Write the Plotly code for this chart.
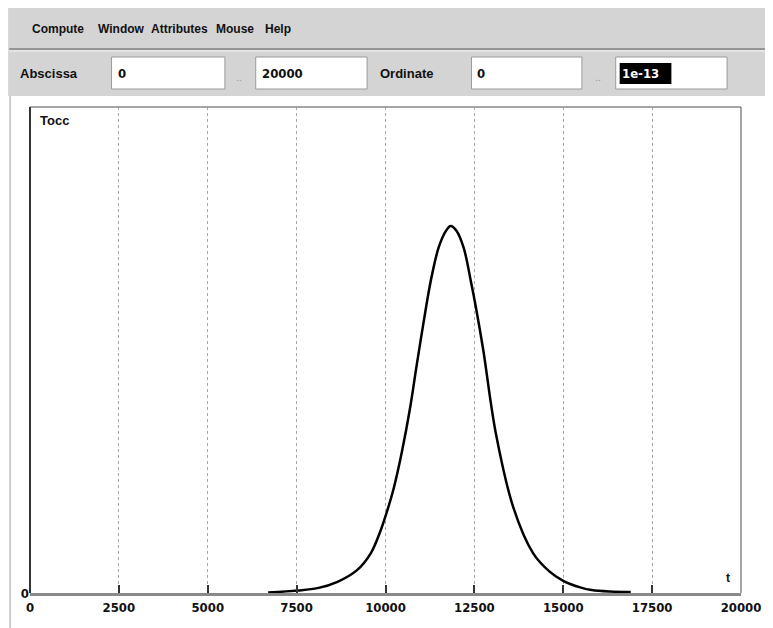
import plotly.graph_objects as go

# ---- data ----
t_vals = [6700, 7530, 8090, 8650, 9200, 9580, 9850, 10000, 10230, 10460, 10690,
          10880, 11150, 11300, 11500, 11700, 11830, 12000, 12200, 12400, 12550,
          12750, 13100, 13600, 14150, 14600, 15000, 15500, 15800, 16300, 16900]
tocc_vals = [0.001, 0.005, 0.010, 0.023, 0.047, 0.081, 0.126, 0.158, 0.215, 0.290, 0.380,
             0.470, 0.592, 0.652, 0.712, 0.745, 0.755, 0.745, 0.710, 0.642, 0.585,
             0.500, 0.330, 0.175, 0.082, 0.045, 0.025, 0.011, 0.006, 0.003, 0.002]
tocc_vals = [v * 1e-13 for v in tocc_vals]
x_ticks = [0, 2500, 5000, 7500, 10000, 12500, 15000, 17500, 20000]
x_tick_labels = ["0", "2500", "5000", "7500", "10000", "12500", "15000", "17500", "20000"]
menu_items = ["Compute", "Window", "Attributes", "Mouse", "Help"]
menu_cx = [58, 122, 180, 236, 279]

OFF = 8  # page body margin
W, H = 773 - OFF, 628 - OFF
L, R, T, B = 30 - OFF, (773 - OFF) - (745 - OFF), 107 - OFF, (628 - OFF) - (593 - OFF)
PW, PH = W - L - R, H - T - B


def px(x):
    # page pixel x -> paper coordinate
    return (x - OFF - L) / PW


def py(y):
    # page pixel y -> paper coordinate
    return (H - B - (y - OFF)) / PH


fig = go.Figure()
fig.add_trace(go.Scatter(x=t_vals, y=tocc_vals, mode="lines",
                         line=dict(color="black", width=2.5, shape="spline", smoothing=1.0),
                         hoverinfo="skip", showlegend=False))

shapes = []
annotations = []
GRAY = "#d4d4d4"
FONT_UI = "Liberation Sans, Arial, sans-serif"
FONT_NUM = "DejaVu Sans Condensed, Liberation Sans Narrow, Arial Narrow, sans-serif"

# window panel
shapes.append(dict(type="rect", xref="paper", yref="paper", x0=px(8), x1=px(773), y0=py(8), y1=py(96),
                   fillcolor=GRAY, line=dict(width=0), layer="below"))
shapes.append(dict(type="line", xref="paper", yref="paper", x0=px(9), x1=px(773), y0=py(49), y1=py(49),
                   line=dict(color="#808080", width=1.5)))
shapes.append(dict(type="line", xref="paper", yref="paper", x0=px(9), x1=px(773), y0=py(51), y1=py(51),
                   line=dict(color="#f4f4f4", width=1)))
shapes.append(dict(type="line", xref="paper", yref="paper", x0=px(10), x1=px(10), y0=py(96), y1=py(628),
                   line=dict(color="#cccccc", width=2)))

for name, cx in zip(menu_items, menu_cx):
    annotations.append(dict(x=px(cx), y=py(29), xref="paper", yref="paper", text="<b>" + name + "</b>",
                            showarrow=False, xanchor="center", yanchor="middle",
                            font=dict(family=FONT_UI, size=12, color="#111111")))

# toolbar labels
annotations.append(dict(x=px(18), y=py(73), xref="paper", yref="paper", text="<b>Abscissa</b>",
                        showarrow=False, xanchor="left", yanchor="middle",
                        font=dict(family=FONT_UI, size=13, color="#111111")))
annotations.append(dict(x=px(380), y=py(73), xref="paper", yref="paper", text="<b>Ordinate</b>",
                        showarrow=False, xanchor="left", yanchor="middle",
                        font=dict(family=FONT_UI, size=13, color="#111111")))
for dx in [240, 601]:
    annotations.append(dict(x=px(dx), y=py(77), xref="paper", yref="paper", text="..",
                            showarrow=False, xanchor="center", yanchor="middle",
                            font=dict(family=FONT_UI, size=11, color="#999999")))

# input boxes
boxes = [(112, 226, "0"), (257, 369, "20000"), (474, 585, "0"), (619, 731, "1e-13")]
for x0, x1, txt in boxes:
    shapes.append(dict(type="rect", xref="paper", yref="paper", x0=px(x0), x1=px(x1), y0=py(57), y1=py(89),
                       fillcolor="white", line=dict(color="#9a9a9a", width=1)))
    if txt == "1e-13":
        shapes.append(dict(type="rect", xref="paper", yref="paper", x0=px(623), x1=px(675), y0=py(63), y1=py(84),
                           fillcolor="black", line=dict(width=0)))
        color = "white"
    else:
        color = "#111111"
    annotations.append(dict(x=px(x0 + 4), y=py(73), xref="paper", yref="paper", text="<b>" + txt + "</b>",
                            showarrow=False, xanchor="left", yanchor="middle",
                            font=dict(family=FONT_NUM, size=13, color=color)))

# plot frame
shapes.append(dict(type="line", xref="paper", yref="paper", x0=0, x1=1, y0=1, y1=1,
                   line=dict(color="#888888", width=1.5)))
shapes.append(dict(type="line", xref="paper", yref="paper", x0=1, x1=1, y0=0, y1=1,
                   line=dict(color="#888888", width=1.5)))
shapes.append(dict(type="line", xref="paper", yref="paper", x0=0, x1=0, y0=0, y1=1,
                   line=dict(color="#333333", width=2)))

annotations.append(dict(x=px(38), y=py(121), xref="paper", yref="paper", text="<b>Tocc</b>",
                        showarrow=False, xanchor="left", yanchor="middle",
                        font=dict(family=FONT_UI, size=13, color="#111111")))
annotations.append(dict(x=px(732), y=py(578), xref="paper", yref="paper", text="<b>t</b>",
                        showarrow=False, xanchor="center", yanchor="middle",
                        font=dict(family=FONT_UI, size=12, color="#111111")))

fig.update_layout(
    width=W, height=H,
    margin=dict(l=L, r=R, t=T, b=B),
    paper_bgcolor="white", plot_bgcolor="white",
    shapes=shapes, annotations=annotations,
    xaxis=dict(range=[0, 20000], tickvals=x_ticks, ticktext=["<b>" + s + "</b>" for s in x_tick_labels],
               showgrid=True, gridcolor="#a8a8a8", griddash="dot", gridwidth=1,
               ticks="inside", ticklen=8, tickcolor="#333333", tickwidth=1.5,
               showline=True, linecolor="#8a8a8a", linewidth=3, zeroline=False,
               tickfont=dict(family=FONT_NUM, size=13, color="#111111"), fixedrange=True),
    yaxis=dict(range=[0, 1e-13], tickvals=[0], ticktext=["<b>0</b>"], showgrid=False, zeroline=False,
               showline=False, ticks="", tickfont=dict(family=FONT_NUM, size=13, color="#111111"),
               fixedrange=True),
)

fig.write_html("out.html")
